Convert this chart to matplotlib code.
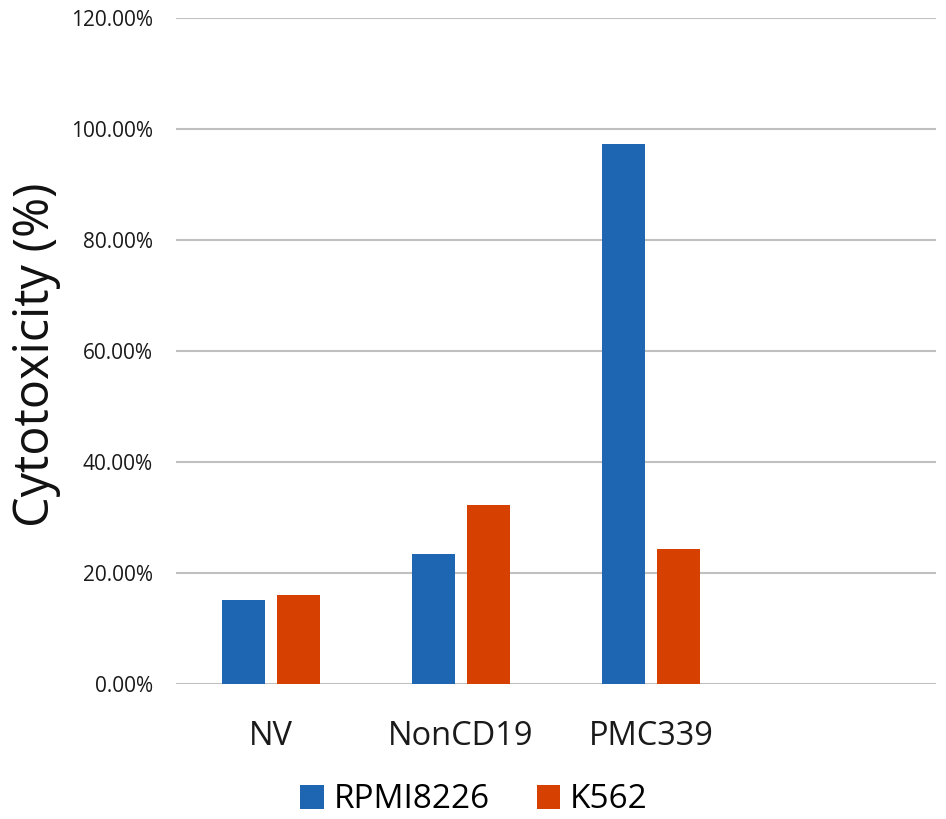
import matplotlib
matplotlib.use('Agg')
import matplotlib.pyplot as plt
import numpy as np

# chart values
categories = ['NV', 'NonCD19', 'PMC339', '']
series_names = ['RPMI8226', 'K562']
rpmi = [15.1, 23.5, 97.3, None]
k562 = [16.1, 32.2, 24.4, None]
y_ticks = [0, 20, 40, 60, 80, 100, 120]

blue = '#1f66b2'
orange = '#d64000'

plt.rcParams['font.family'] = ['Open Sans', 'DejaVu Sans']

fig = plt.figure(figsize=(9.46, 8.19), dpi=100)
ax = fig.add_axes([176/946, 1-684/819, 760/946, 666/819])

x = np.arange(len(categories))
w = 0.225
off = 0.144
vals1 = [v if v is not None else 0 for v in rpmi]
vals2 = [v if v is not None else 0 for v in k562]
ax.bar(x - off, vals1, w, color=blue, label=series_names[0], zorder=3)
ax.bar(x + off, vals2, w, color=orange, label=series_names[1], zorder=3)

ax.set_xlim(-0.5, len(categories) - 0.5)
ax.set_ylim(0, 120)
ax.set_yticks(y_ticks)
ax.set_yticklabels(['%.2f%%' % t for t in y_ticks], fontsize=15, color='#1a1a1a')
ax.set_xticks(x)
ax.set_xticklabels(categories, fontsize=23.5, color='#1a1a1a')
ax.tick_params(axis='both', length=0)
ax.tick_params(axis='y', pad=16.5)
ax.tick_params(axis='x', pad=26)
ax.grid(axis='y', color='#c0c0c0', linewidth=1.5, zorder=0)
for s in ax.spines.values():
    s.set_visible(False)

fig.text(36/946, 1-355/819, 'Cytotoxicity (%)', rotation=90, ha='center', va='center',
         fontsize=35, color='#111111')

fig.legend(loc='center', bbox_to_anchor=(474/946, 1-800/819), ncol=2, frameon=False,
           fontsize=24, handlelength=0.7, handleheight=0.7, handletextpad=0.3,
           columnspacing=1.4)

fig.savefig('out.png', dpi=100)
